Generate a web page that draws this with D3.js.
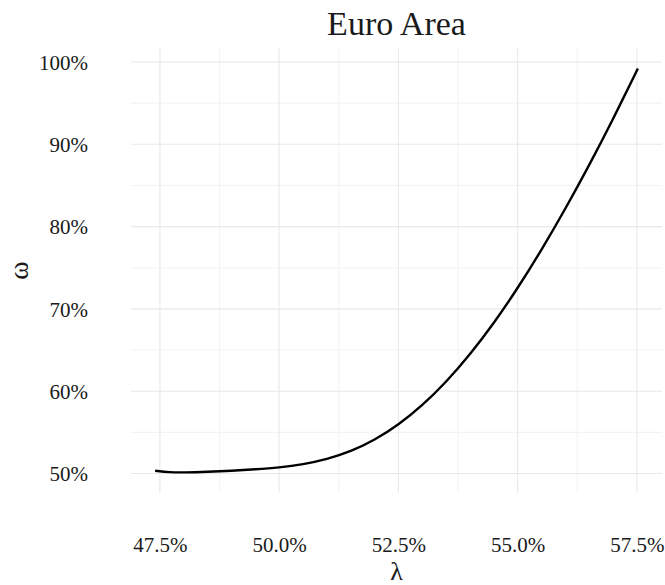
<!DOCTYPE html>
<html>
<head>
<meta charset="utf-8">
<script src="https://cdn.jsdelivr.net/npm/d3@7"></script>
<style>
  html, body { margin: 0; padding: 0; background: #ffffff; }
  svg text { font-family: "Liberation Serif", "DejaVu Serif", serif; fill: #1a1a1a; }
</style>
</head>
<body>
<svg id="chart" width="665" height="585"></svg>
<script>
// ---- data (percent units) ----
const lambda = [47.40, 47.70, 48.00, 48.50, 49.00, 49.50, 50.00, 50.50, 51.00, 51.50,
                52.00, 52.50, 53.00, 53.50, 54.00, 54.50, 55.00, 55.50, 56.00, 56.50,
                57.00, 57.52];
const omega  = [50.34, 50.14, 50.12, 50.20, 50.33, 50.50, 50.72, 51.10, 51.72, 52.67,
                54.05, 55.90, 58.25, 61.10, 64.45, 68.25, 72.50, 77.15, 82.15, 87.45,
                93.05, 99.20];
const xTickValues = [47.5, 50.0, 52.5, 55.0, 57.5];
const xTickLabels = ["47.5%", "50.0%", "52.5%", "55.0%", "57.5%"];
const xMinorValues = [48.75, 51.25, 53.75, 56.25];
const yTickValues = [50, 60, 70, 80, 90, 100];
const yTickLabels = ["50%", "60%", "70%", "80%", "90%", "100%"];
const yMinorValues = [55, 65, 75, 85, 95];
const titleText = "Euro Area";
const xTitle = "λ";
const yTitle = "ω";

// ---- layout ----
const panel = { left: 131, right: 662, top: 48.4, bottom: 492.7 };
const svg = d3.select("#chart");

function expand(ext) { const r = ext[1] - ext[0]; return [ext[0] - 0.05 * r, ext[1] + 0.05 * r]; }
const x = d3.scaleLinear().domain(expand(d3.extent(lambda))).range([panel.left, panel.right]);
const y = d3.scaleLinear().domain(expand(d3.extent(omega))).range([panel.bottom, panel.top]);

const data = lambda.map((l, i) => ({ l, w: omega[i] }));

// minor grid
const grid = svg.append("g");
grid.selectAll("line.xminor").data(xMinorValues).enter().append("line")
  .attr("x1", d => x(d)).attr("x2", d => x(d)).attr("y1", panel.top).attr("y2", panel.bottom)
  .attr("stroke", "#f3f3f3").attr("stroke-width", 1.1);
grid.selectAll("line.yminor").data(yMinorValues).enter().append("line")
  .attr("y1", d => y(d)).attr("y2", d => y(d)).attr("x1", panel.left).attr("x2", panel.right)
  .attr("stroke", "#f3f3f3").attr("stroke-width", 1.1);
// major grid
grid.selectAll("line.xmajor").data(xTickValues).enter().append("line")
  .attr("x1", d => x(d)).attr("x2", d => x(d)).attr("y1", panel.top).attr("y2", panel.bottom)
  .attr("stroke", "#e8e8e8").attr("stroke-width", 1.1);
grid.selectAll("line.ymajor").data(yTickValues).enter().append("line")
  .attr("y1", d => y(d)).attr("y2", d => y(d)).attr("x1", panel.left).attr("x2", panel.right)
  .attr("stroke", "#e8e8e8").attr("stroke-width", 1.1);

// axes (labels only, via d3 axis)
const xAxis = d3.axisBottom(x).tickValues(xTickValues)
  .tickFormat((d, i) => xTickLabels[i]).tickSize(0).tickPadding(0);
const gx = svg.append("g").attr("transform", `translate(0,${537})`).call(xAxis);
gx.select(".domain").remove();
gx.selectAll("text").attr("font-size", 21).attr("dy", "0.71em")
  .attr("font-family", "Liberation Serif").attr("fill", "#1a1a1a");

const yAxis = d3.axisLeft(y).tickValues(yTickValues)
  .tickFormat((d, i) => yTickLabels[i]).tickSize(0).tickPadding(0);
const gy = svg.append("g").attr("transform", `translate(${88},0)`).call(yAxis);
gy.select(".domain").remove();
gy.selectAll("text").attr("font-size", 21).attr("dy", "0.35em")
  .attr("font-family", "Liberation Serif").attr("fill", "#1a1a1a");

// line
const line = d3.line().x(d => x(d.l)).y(d => y(d.w)).curve(d3.curveBasis);
svg.append("path").datum(data).attr("d", line)
  .attr("fill", "none").attr("stroke", "#000").attr("stroke-width", 2.4)
  .attr("stroke-linecap", "butt");

// titles
svg.append("text").attr("x", (panel.left + panel.right) / 2).attr("y", 35)
  .attr("text-anchor", "middle").attr("font-size", 34).text(titleText);
svg.append("text").attr("x", (panel.left + panel.right) / 2).attr("y", 580)
  .attr("text-anchor", "middle").attr("font-size", 26).text(xTitle);
svg.append("text").attr("transform", `translate(28,${(panel.top + panel.bottom) / 2}) rotate(-90)`)
  .attr("text-anchor", "middle").attr("font-size", 28).text(yTitle);
</script>
</body>
</html>
